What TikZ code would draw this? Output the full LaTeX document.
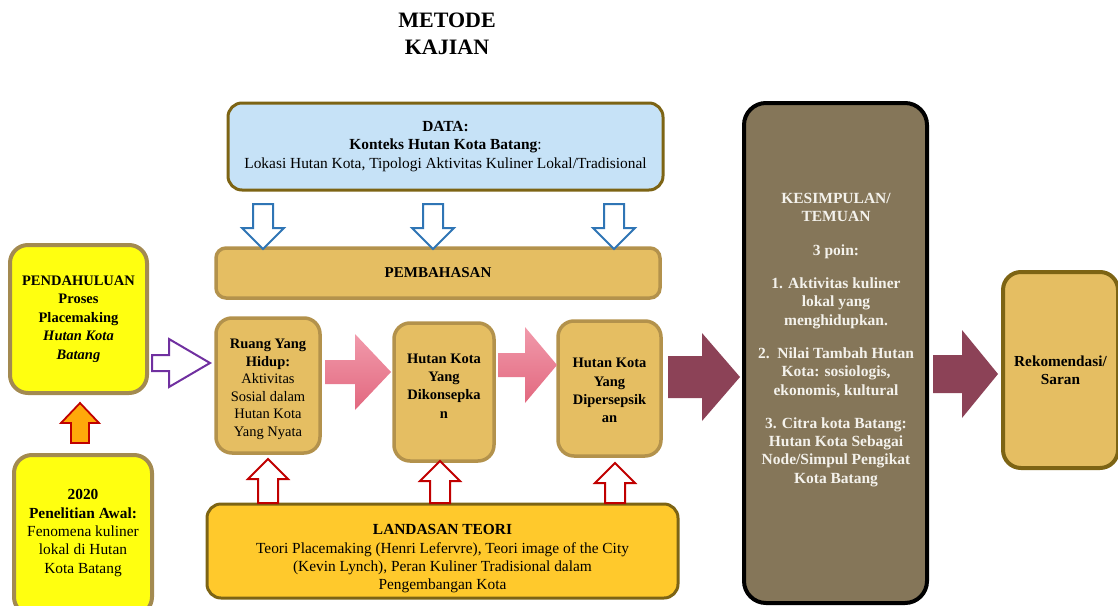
\documentclass[tikz,border=0pt]{standalone}
\usepackage{fontspec}
\setmainfont{Liberation Serif}
\definecolor{yelfill}{HTML}{FFFF10}
\definecolor{yelline}{HTML}{A38A50}
\definecolor{tanfill}{HTML}{E5BE62}
\definecolor{tanline}{HTML}{B3924C}
\definecolor{datafill}{HTML}{C6E2F7}
\definecolor{darkline}{HTML}{7D6414}
\definecolor{goldfill}{HTML}{FFC92C}
\definecolor{kesfill}{HTML}{857659}
\definecolor{kestext}{HTML}{F4F2EC}
\definecolor{arrblue}{HTML}{2F75B5}
\definecolor{arrred}{HTML}{C00000}
\definecolor{arrpurple}{HTML}{7030A0}
\definecolor{arrmaroon}{HTML}{8C4257}
\definecolor{pinktop}{HTML}{F19AAB}
\definecolor{pinkbot}{HTML}{E2687F}
\definecolor{orangefill}{HTML}{FFA80A}
\newcommand{\harrow}[7]{% style, x start, x tip, y centre, shaft half, head half, head base x
  \draw[#1] (#2,#4-#5) -- (#7,#4-#5) -- (#7,#4-#6) -- (#3,#4) -- (#7,#4+#6) -- (#7,#4+#5) -- (#2,#4+#5) -- cycle;}
\newcommand{\varrow}[7]{% style, y start, y tip, x centre, shaft half, head half, head base y
  \draw[#1] (#4-#5,#2) -- (#4-#5,#7) -- (#4-#6,#7) -- (#4,#3) -- (#4+#6,#7) -- (#4+#5,#7) -- (#4+#5,#2) -- cycle;}
\begin{document}
\begin{tikzpicture}[x=1pt,y=-1pt,
  txt/.style={align=center, inner sep=0pt, font=\fontsize{15.4}{18.3}\selectfont},
  smalltxt/.style={align=center, inner sep=0pt, font=\fontsize{14.5}{17.5}\selectfont},
  box/.style={draw, rounded corners=16pt, inner sep=0pt, align=center},
  yelbox/.style={box, fill=yelfill, draw=yelline, line width=4pt},
  tanbox/.style={box, fill=tanfill, draw=tanline, line width=3.5pt},
  databox/.style={box, rounded corners=14pt, fill=datafill, draw=darkline, line width=3pt},
  goldbox/.style={box, rounded corners=14pt, fill=goldfill, draw=darkline, line width=3pt},
  kesbox/.style={box, rounded corners=22pt, fill=kesfill, draw=black, line width=4pt},
  rekbox/.style={box, rounded corners=18pt, fill=tanfill, draw=darkline, line width=4pt},
  bluearr/.style={draw=arrblue, fill=white, line width=2pt, line join=miter},
  redarr/.style={draw=arrred, fill=white, line width=2pt, line join=miter},
  purplearr/.style={draw=arrpurple, fill=white, line width=2pt, line join=miter},
  orangearr/.style={draw=arrred, fill=orangefill, line width=1.8pt, line join=miter},
  pinkarr/.style={top color=pinktop, bottom color=pinkbot, draw=none},
  maroonarr/.style={fill=arrmaroon, draw=none}]
\useasboundingbox (0,0) rectangle (1118,605);

% title
\node[align=center, inner sep=0pt, font=\fontsize{22}{27}\selectfont\bfseries] (title) at (447,34) {METODE\\KAJIAN};

% left column
\node[yelbox, minimum width=137pt, minimum height=148pt, rounded corners=18pt, font=\fontsize{14.5}{18.5}\selectfont\bfseries] (pend) at (78.5,319)
  {PENDAHULUAN\\Proses\\Placemaking\\\textit{Hutan Kota}\\\textit{Batang}};
\node[yelbox, minimum width=138pt, minimum height=160pt, rounded corners=18pt] (awal) at (83,535) {};
\node[txt] (awaltxt) at (83,533) {\textbf{2020}\\\textbf{Penelitian Awal:}\\Fenomena kuliner\\lokal di Hutan\\Kota Batang};

% data and discussion
\node[databox, minimum width=435pt, minimum height=87pt, txt] (data) at (445.5,146.5)
  {\textbf{DATA:}\\\textbf{Konteks Hutan Kota Batang}:\\Lokasi Hutan Kota, Tipologi Aktivitas Kuliner Lokal/Tradisional};
\node[tanbox, rounded corners=10pt, minimum width=444pt, minimum height=50pt, txt, font=\fontsize{15}{18.3}\selectfont\bfseries] (bahas) at (438,273) {PEMBAHASAN};

% three stages
\node[tanbox, minimum width=104pt, minimum height=135pt] (ruang) at (268,385.5) {};
\node[smalltxt] (ruangtxt) at (268,389.5) {\textbf{Ruang Yang}\\\textbf{Hidup:}\\Aktivitas\\Sosial dalam\\Hutan Kota\\Yang Nyata};
\node[tanbox, minimum width=100pt, minimum height=138pt] (konsep) at (444,392) {};
\node[smalltxt, font=\fontsize{14.5}{18.3}\selectfont\bfseries] (konseptxt) at (444,386) {Hutan Kota\\Yang\\Dikonsepka\\n};
\node[tanbox, minimum width=103pt, minimum height=135pt] (persep) at (609.5,388.5) {};
\node[smalltxt, font=\fontsize{14.5}{18.3}\selectfont\bfseries] (perseptxt) at (609.5,390.5) {Hutan Kota\\Yang\\Dipersepsik\\an};

% theory
\node[goldbox, minimum width=471pt, minimum height=94pt] (teori) at (442.5,551) {};
\node[txt] (teoritxt) at (442.5,559) {\textbf{LANDASAN TEORI}\\Teori Placemaking (Henri Lefervre), Teori image of the City\\(Kevin Lynch), Peran Kuliner Tradisional dalam\\Pengembangan Kota};

% conclusions
\node[kesbox, minimum width=183pt, minimum height=500pt] (kes) at (835.5,353) {};
\node[txt, text=kestext, font=\fontsize{15.5}{18.3}\selectfont\bfseries] (kestxt) at (836,340)
  {KESIMPULAN/\\TEMUAN\\[15pt]3 poin:\\[15pt]1. Aktivitas kuliner\\lokal yang\\menghidupkan.\\[15pt]2.\ \ Nilai Tambah Hutan\\Kota: sosiologis,\\ekonomis, kultural\\[15pt]3. Citra kota Batang:\\Hutan Kota Sebagai\\Node/Simpul Pengikat\\Kota Batang};

% recommendation
\node[rekbox, minimum width=115pt, minimum height=196pt, txt, font=\fontsize{15.3}{18.3}\selectfont\bfseries] (rek) at (1060.5,370) {Rekomendasi/\\Saran};

% block arrows
\varrow{orangearr}{443}{403}{80}{9}{19}{423}
\harrow{purplearr}{152}{210}{363}{8}{24}{169}
\varrow{bluearr}{204}{249}{263}{10}{21}{228}
\varrow{bluearr}{204}{249}{433}{10}{21}{228}
\varrow{bluearr}{204}{249}{614}{10}{21}{228}
\varrow{redarr}{503}{459}{268}{10}{20}{479}
\varrow{redarr}{503}{461}{440}{10}{20}{481}
\varrow{redarr}{503}{463}{615}{10}{20}{483}
\harrow{pinkarr}{325}{391}{372}{12}{38}{355}
\harrow{pinkarr}{498}{557}{365}{12}{38}{525}
\harrow{maroonarr}{668}{740}{377}{21}{44}{702}
\harrow{maroonarr}{933}{998}{374}{19}{44}{962}
\end{tikzpicture}
\end{document}
